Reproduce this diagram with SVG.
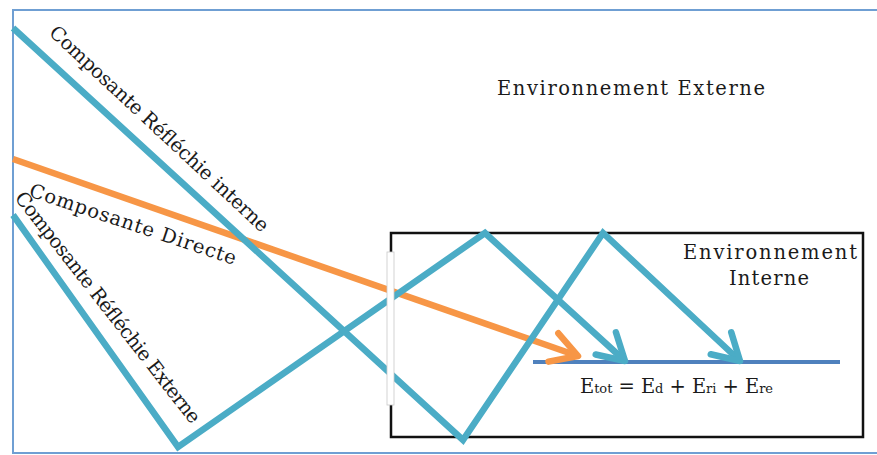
<svg xmlns="http://www.w3.org/2000/svg" width="877" height="455" viewBox="0 0 877 455">
<defs>
<style>
.txt{font-family:"DejaVu Serif","Liberation Serif",serif;font-size:19.5px;fill:#1a1a1a}
.lbl{font-family:"DejaVu Serif","Liberation Serif",serif;font-size:19.5px;fill:#1a1a1a}
.ray{fill:none;stroke-width:6.5;stroke-linejoin:miter;stroke-linecap:butt}
.blue{stroke:#4BACC6}
.orange{stroke:#F79646}
.sub{font-size:13px}
</style>
<marker id="ab" markerUnits="userSpaceOnUse" viewBox="-40 -25 50 50" refX="0" refY="0" markerWidth="50" markerHeight="50" orient="auto" overflow="visible">
<path d="M-26,-15 L0,0 L-26,15" fill="none" stroke="#4BACC6" stroke-width="6.5" stroke-linecap="round" stroke-linejoin="round"/>
</marker>
<marker id="ao" markerUnits="userSpaceOnUse" viewBox="-40 -25 50 50" refX="0" refY="0" markerWidth="50" markerHeight="50" orient="auto" overflow="visible">
<path d="M-26,-15 L0,0 L-26,15" fill="none" stroke="#F79646" stroke-width="6.5" stroke-linecap="round" stroke-linejoin="round"/>
</marker>
</defs>
<rect width="877" height="455" fill="#ffffff"/>
<g id="outer-frame">
<rect x="13" y="10" width="870" height="443" fill="none" stroke="#6f9fd3" stroke-width="2"/>
</g>
<g id="environnement-interne">
<rect x="391" y="233" width="472" height="204" fill="#ffffff" stroke="#111111" stroke-width="2.5"/>
<text class="txt" x="770" y="259" text-anchor="middle" textLength="174">Environnement</text>
<text class="txt" x="769" y="285" text-anchor="middle" textLength="80">Interne</text>
</g>
<g id="environnement-externe">
<text class="txt" x="497" y="95" textLength="268">Environnement Externe</text>
</g>
<g id="surface">
<line x1="533" y1="362" x2="840" y2="362" stroke="#4F81BD" stroke-width="4"/>
<text class="txt" x="580" y="393" textLength="193"><tspan>E</tspan><tspan class="sub">tot</tspan><tspan> = E</tspan><tspan class="sub">d</tspan><tspan> + E</tspan><tspan class="sub">ri</tspan><tspan> + E</tspan><tspan class="sub">re</tspan></text>
</g>
<g id="connectors">
<polyline id="directe" class="ray orange" points="13,159 578,356" marker-end="url(#ao)"/>
<polyline id="reflechie-externe" class="ray blue" points="13,215 178,447 485,233 625,361" marker-end="url(#ab)"/>
<polyline id="reflechie-interne" class="ray blue" points="13,28 463,440 603,233 740,361" marker-end="url(#ab)"/>
</g>
<g id="fenetre">
<rect x="387" y="252" width="7" height="153" fill="#ffffff" stroke="#c8c8c8" stroke-width="0.8"/>
</g>
<g id="labels">
<text class="lbl" transform="translate(48,34) rotate(43)" textLength="292">Composante Réfléchie interne</text>
<text class="lbl" transform="translate(28,196) rotate(18.5)" textLength="217">Composante Directe</text>
<text class="lbl" transform="translate(14,198) rotate(52)" textLength="288">Composante Réfléchie Externe</text>
</g>
</svg>
